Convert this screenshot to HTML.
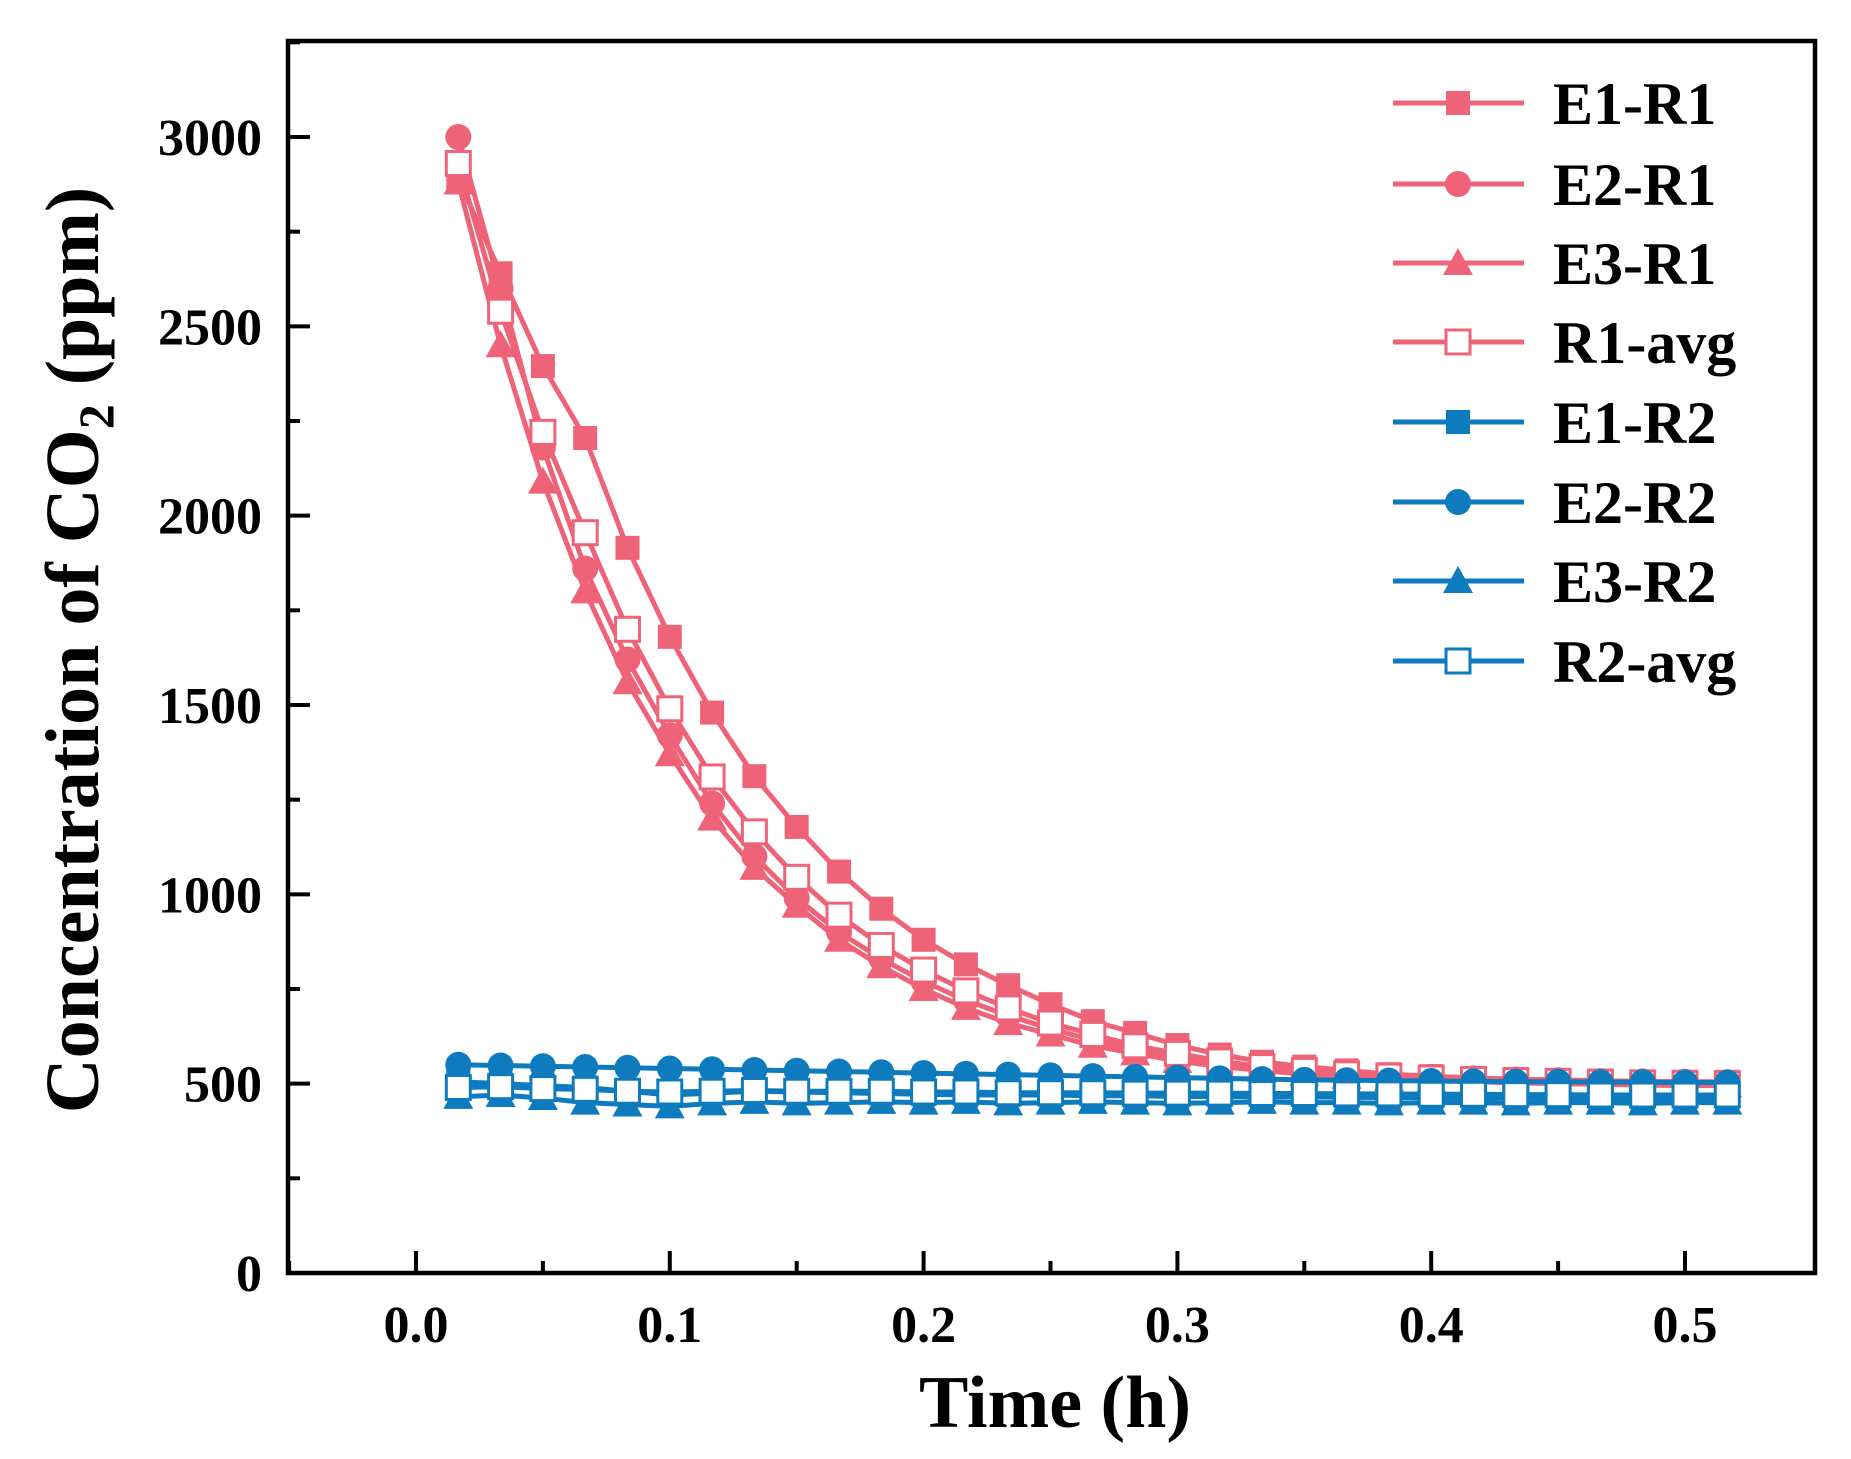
<!DOCTYPE html>
<html><head><meta charset="utf-8"><style>
html,body{margin:0;padding:0;background:#fff;}
svg{display:block;font-family:"Liberation Serif",serif;font-weight:bold;}
</style></head><body>
<svg id="chart" width="1851" height="1459" viewBox="0 0 1851 1459" xmlns="http://www.w3.org/2000/svg">
<g id="series"></g>
<g id="axes"></g>
<g id="legend"></g>
</svg>
<script>
const xTicks=[0.0,0.1,0.2,0.3,0.4,0.5];
const xTickLabels=["0.0","0.1","0.2","0.3","0.4","0.5"];
const yTicks=[0,500,1000,1500,2000,2500,3000];
const yTickLabels=["0","500","1000","1500","2000","2500","3000"];
const seriesNames=["E1-R1","E2-R1","E3-R1","R1-avg","E1-R2","E2-R2","E3-R2","R2-avg"];
const timeSteps=[1,2,3,4,5,6,7,8,9,10,11,12,13,14,15,16,17,18,19,20,21,22,23,24,25,26,27,28,29,30,31]; // minutes
const e1r1=[2890,2640,2395,2205,1915,1680,1480,1312,1178,1060,962,880,815,760,710,665,634,602,577,558,545,535,525,520,515,512,510,508,506,505,505];
const e2r1=[3000,2600,2180,1860,1620,1420,1240,1100,990,900,830,770,720,680,645,615,590,570,555,545,535,528,522,518,514,511,509,507,506,505,504];
const e3r1=[2880,2450,2090,1800,1560,1370,1200,1070,970,880,810,750,700,660,630,600,580,560,545,535,525,518,512,508,505,502,500,498,496,495,495];
const r1avg=[2930,2540,2220,1955,1700,1490,1310,1165,1045,945,865,800,745,700,660,630,600,580,560,545,535,526,520,515,511,508,506,504,502,501,500];
const e1r2=[505,500,495,490,480,470,475,480,478,476,474,472,470,470,470,468,468,466,466,465,465,464,463,463,462,462,461,461,460,460,460];
const e2r2=[550,548,546,544,542,540,538,536,534,532,530,528,526,524,522,520,518,516,514,512,510,509,508,507,506,505,505,504,504,503,503];
const e3r2=[465,470,462,450,445,440,448,452,448,450,452,450,452,448,450,452,450,448,450,452,450,450,448,450,450,448,450,450,448,450,450];
const r2avg=[490,492,487,485,480,478,480,482,480,480,480,478,478,476,476,476,475,475,475,474,474,473,473,472,472,471,471,470,470,470,470];

const NS="http://www.w3.org/2000/svg";
const L=288,R=1815,T=41,B=1273;
const X0=416,X1=1685;
const sx=v=>X0+(v/0.5)*(X1-X0);
const Y0=1273,Y3=137;
const sy=v=>Y0-(v/3000)*(Y0-Y3);
const RED="#ef6378",BLUE="#0d7bbd";
function mk(tag,attrs,parent){const e=document.createElementNS(NS,tag);for(const k in attrs)e.setAttribute(k,attrs[k]);parent.appendChild(e);return e;}
function marker(g,shape,x,y,color){
  const s=12;let m;
  if(shape==="square"||shape==="open")m=mk("rect",{x:x-s,y:y-s,width:2*s,height:2*s,fill:shape==="open"?"#fff":color,stroke:color,"stroke-width":shape==="open"?3:0},g);
  else if(shape==="circle")m=mk("circle",{cx:x,cy:y,r:s+1,fill:color},g);
  else m=mk("polygon",{points:`${x},${y-s-3} ${x-s-3},${y+s} ${x+s+3},${y+s}`,fill:color},g);
  return m;
}
const defs=[
 {name:"E1-R1",data:e1r1,color:RED,shape:"square"},
 {name:"E2-R1",data:e2r1,color:RED,shape:"circle"},
 {name:"E3-R1",data:e3r1,color:RED,shape:"triangle"},
 {name:"R1-avg",data:r1avg,color:RED,shape:"open"},
 {name:"E1-R2",data:e1r2,color:BLUE,shape:"square"},
 {name:"E2-R2",data:e2r2,color:BLUE,shape:"circle"},
 {name:"E3-R2",data:e3r2,color:BLUE,shape:"triangle"},
 {name:"R2-avg",data:r2avg,color:BLUE,shape:"open"}
];
const sg=document.getElementById("series");
defs.forEach((d,i)=>{
  const g=mk("g",{},sg);
  
  
  const pts=d.data.map((v,j)=>sx(timeSteps[j]/60)+","+sy(v)).join(" ");
  const pl=mk("polyline",{points:pts,fill:"none",stroke:d.color,"stroke-width":5},g);
  
  
  d.data.forEach((v,j)=>{
    const m=marker(g,d.shape,sx(timeSteps[j]/60),sy(v),d.color);
    
    
  });
});
const ag=document.getElementById("axes");
const frame=mk("rect",{x:L,y:T,width:R-L,height:B-T,fill:"none",stroke:"#000","stroke-width":4.5},ag);


xTicks.forEach((v,i)=>{
  const x=sx(v);
  mk("line",{x1:x,y1:B,x2:x,y2:B-22,stroke:"#000","stroke-width":4},ag);
  if(i<xTicks.length-1){const xm=sx(v+0.05);mk("line",{x1:xm,y1:B,x2:xm,y2:B-12,stroke:"#000","stroke-width":4},ag);}
  const t=mk("text",{x:x,y:1342,"text-anchor":"middle","font-size":52},ag);
  t.textContent=xTickLabels[i];
  
  
});
{const xm=sx(-0.05);mk("line",{x1:xm,y1:B,x2:xm,y2:B-12,stroke:"#000","stroke-width":4},ag);}
yTicks.forEach((v,i)=>{
  const y=sy(v);
  mk("line",{x1:L,y1:y,x2:L+22,y2:y,stroke:"#000","stroke-width":4},ag);
  const ym=sy(v+250);if(ym>T)mk("line",{x1:L,y1:ym,x2:L+12,y2:ym,stroke:"#000","stroke-width":4},ag);
  const t=mk("text",{x:262,y:y+18,"text-anchor":"end","font-size":52},ag);
  t.textContent=yTickLabels[i];
  
  
});
const xt=mk("text",{x:1055,y:1427,"text-anchor":"middle","font-size":74},ag);
xt.textContent="Time (h)";


const yt=mk("text",{x:0,y:0,"text-anchor":"middle","font-size":76,transform:"translate(98,650) rotate(-90)"},ag);
yt.innerHTML='Concentration of CO<tspan font-size="50" dy="15">2</tspan><tspan dy="-15"> (ppm)</tspan>';


const lg=document.getElementById("legend");
const rows=[103,184,263,342,422,502,581,661];
defs.forEach((d,i)=>{
  const g=mk("g",{},lg);
  
  
  const y=rows[i];
  mk("line",{x1:1393,y1:y,x2:1524,y2:y,stroke:d.color,"stroke-width":5},g);
  marker(g,d.shape,1458,y,d.color);
  const t=mk("text",{x:1553,y:y+21,"font-size":60},g);
  t.textContent=d.name;
});
</script>
</body></html>
